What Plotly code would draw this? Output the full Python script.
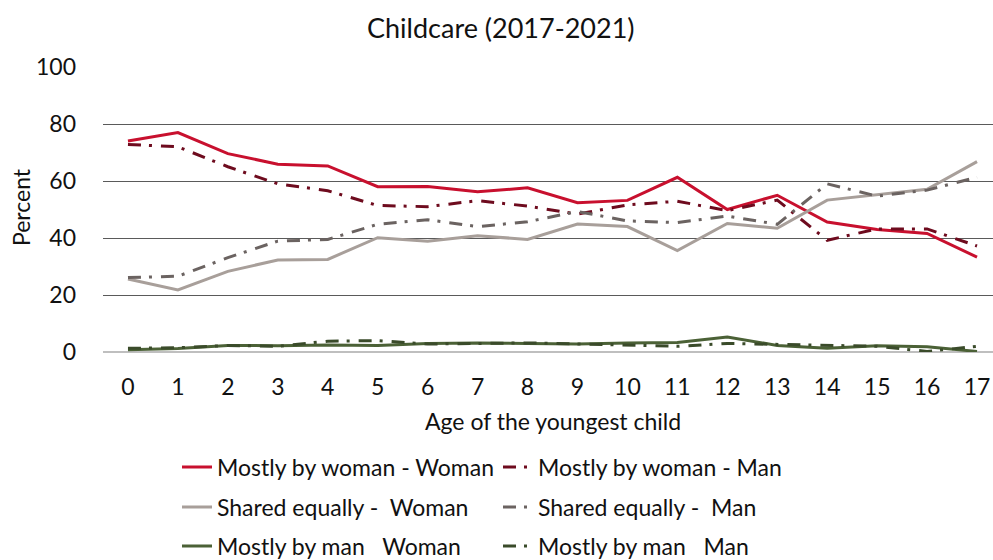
import plotly.graph_objects as go

ages = list(range(18))
tick_labels = [str(a) for a in ages]

mostly_woman_woman = [74.0, 77.0, 69.6, 65.9, 65.3, 58.0, 58.1, 56.2, 57.6, 52.4, 53.2, 61.3, 50.0, 55.0, 45.6, 43.0, 41.6, 33.3]
mostly_woman_man = [72.8, 72.0, 65.0, 59.0, 56.6, 51.4, 51.0, 53.1, 51.2, 48.4, 51.6, 52.9, 49.6, 53.3, 39.2, 43.2, 43.2, 37.2]
shared_woman = [25.6, 21.8, 28.3, 32.3, 32.5, 40.1, 38.9, 40.8, 39.5, 44.9, 44.0, 35.6, 45.1, 43.4, 53.3, 55.1, 57.1, 66.8]
shared_man = [26.1, 26.6, 33.1, 38.9, 39.5, 44.8, 46.4, 44.0, 45.7, 49.3, 46.0, 45.4, 47.7, 44.8, 59.0, 54.7, 56.8, 61.3]
mostly_man_woman = [0.8, 1.2, 2.3, 2.2, 2.5, 2.3, 3.0, 3.2, 3.0, 2.8, 3.2, 3.3, 5.3, 2.3, 1.3, 2.2, 1.8, 0.2]
mostly_man_man = [1.3, 1.5, 2.3, 2.0, 3.8, 4.0, 2.8, 3.0, 3.2, 2.8, 2.5, 2.0, 3.0, 2.7, 2.5, 2.0, 0.2, 2.0]

FONT = "Lato"
FS = 23
DASH = "13px,8px,3px,9px"

series = [
    ("Mostly by woman - Woman", mostly_woman_woman, "#C8102E", "solid", "legend"),
    ("Mostly by woman - Man", mostly_woman_man, "#6E0B1E", DASH, "legend"),
    ("Shared equally -  Woman", shared_woman, "#A89F9A", "solid", "legend2"),
    ("Shared equally -  Man", shared_man, "#6B6361", DASH, "legend2"),
    ("Mostly by man   Woman", mostly_man_woman, "#4B6136", "solid", "legend3"),
    ("Mostly by man   Man", mostly_man_man, "#3A4B2A", DASH, "legend3"),
]

fig = go.Figure()
for name, vals, color, dash, leg in series:
    fig.add_trace(go.Scatter(
        x=ages, y=vals, name=name, mode="lines",
        line=dict(color=color, width=3, dash=dash),
        legend=leg,
    ))

# plot area spans pixels 103..993 horizontally, 67..352 vertically
def py(pix):
    return (352 - pix) / 285

def px_(pix):
    return (pix - 103) / 890

legend_common = dict(
    orientation="h", xanchor="left", yanchor="middle",
    x=px_(177), entrywidth=276, entrywidthmode="pixels",
    font=dict(family=FONT, size=FS, color="#111111"),
    bgcolor="rgba(0,0,0,0)", itemclick=False,
)

fig.update_layout(
    width=993, height=560,
    margin=dict(l=103, r=0, t=67, b=208, autoexpand=False),
    paper_bgcolor="white", plot_bgcolor="white",
    font=dict(family=FONT, size=FS, color="#111111"),
    xaxis=dict(
        tickmode="array", tickvals=ages, ticktext=tick_labels,
        range=[-0.5, 17.32], showgrid=False, zeroline=False,
        showline=False, ticks="", ticklabelstandoff=19,
    ),
    yaxis=dict(
        range=[0, 100], tickvals=[0, 20, 40, 60, 80, 100],
        showgrid=True, gridcolor="#5A5A5A", gridwidth=1,
        zeroline=True, zerolinecolor="#BFBFBF", zerolinewidth=1.5,
        ticks="", ticklabelstandoff=26,
    ),
    legend=dict(legend_common, y=py(467)),
    legend2=dict(legend_common, y=py(507)),
    legend3=dict(legend_common, y=py(546)),
    showlegend=True,
)

fig.add_annotation(text="Childcare (2017-2021)", x=px_(501), y=py(27),
                   xanchor="center", yanchor="middle",
                   xref="paper", yref="paper", showarrow=False,
                   font=dict(family=FONT, size=27, color="#111111"))
fig.add_annotation(text="Percent", textangle=-90, x=px_(21), y=py(207),
                   xanchor="center", yanchor="middle",
                   xref="paper", yref="paper", showarrow=False,
                   font=dict(family=FONT, size=FS, color="#111111"))
fig.add_annotation(text="Age of the youngest child", x=px_(553), y=py(421),
                   xanchor="center", yanchor="middle",
                   xref="paper", yref="paper", showarrow=False,
                   font=dict(family=FONT, size=FS, color="#111111"))

fig.write_html("out.html", config={"displayModeBar": False},
               post_script="document.body.style.margin='0';")
